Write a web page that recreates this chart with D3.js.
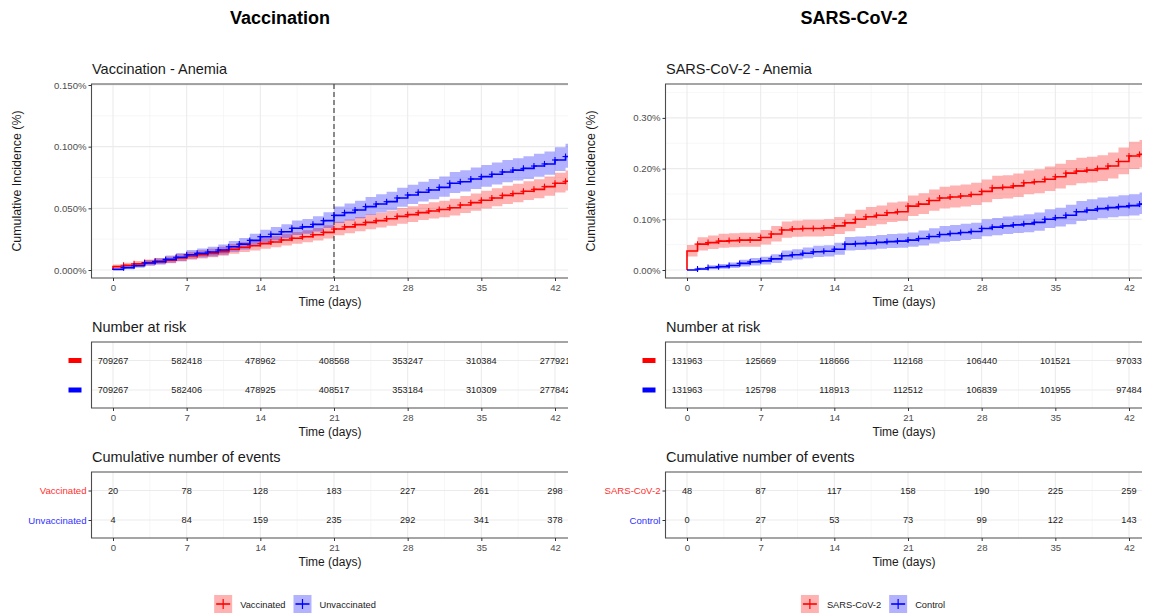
<!DOCTYPE html>
<html><head><meta charset="utf-8">
<script src="https://cdn.jsdelivr.net/npm/d3@7"></script>
<style>
body{margin:0;background:#fff}
svg{display:block;font-family:"Liberation Sans",Arial,Helvetica,sans-serif}
</style>
</head><body>
<svg id="chart" width="1150" height="613"></svg>
<script>
// ---------------- DATA ----------------
const days = [0,1,2,3,4,5,6,7,8,9,10,11,12,13,14,15,16,17,18,19,20,21,22,23,24,25,26,27,28,29,30,31,32,33,34,35,36,37,38,39,40,41,42,43];
const timeTicks = [0,7,14,21,28,35,42];

// Vaccination – Anemia (cumulative incidence, %)
const vaccinatedCI = [0.0027,0.0038,0.0050,0.0060,0.0070,0.0080,0.0097,0.0114,0.0124,0.0135,0.0149,0.0168,0.0184,0.0197,0.0214,0.0227,0.0243,0.0257,0.0270,0.0286,0.0305,0.0332,0.0350,0.0368,0.0386,0.0400,0.0416,0.0435,0.0449,0.0465,0.0478,0.0490,0.0505,0.0527,0.0546,0.0565,0.0584,0.0605,0.0620,0.0638,0.0654,0.0676,0.0703,0.0719];
const vaccinatedLower = [0.0012,0.0021,0.0031,0.0039,0.0047,0.0055,0.0069,0.0084,0.0093,0.0103,0.0115,0.0132,0.0146,0.0158,0.0173,0.0185,0.0199,0.0212,0.0224,0.0239,0.0256,0.0281,0.0298,0.0314,0.0331,0.0344,0.0359,0.0376,0.0390,0.0405,0.0417,0.0428,0.0442,0.0463,0.0481,0.0498,0.0516,0.0536,0.0550,0.0567,0.0582,0.0603,0.0629,0.0644];
const vaccinatedUpper = [0.0044,0.0058,0.0073,0.0085,0.0097,0.0109,0.0129,0.0148,0.0160,0.0172,0.0189,0.0210,0.0228,0.0242,0.0261,0.0275,0.0293,0.0308,0.0322,0.0341,0.0362,0.0391,0.0410,0.0430,0.0449,0.0464,0.0481,0.0502,0.0517,0.0535,0.0549,0.0562,0.0578,0.0601,0.0621,0.0642,0.0662,0.0684,0.0700,0.0719,0.0736,0.0759,0.0789,0.0806];

const unvaccinatedCI = [0.0005,0.0019,0.0035,0.0057,0.0068,0.0086,0.0103,0.0124,0.0135,0.0146,0.0162,0.0189,0.0210,0.0240,0.0270,0.0290,0.0310,0.0338,0.0350,0.0370,0.0400,0.0443,0.0465,0.0486,0.0514,0.0535,0.0554,0.0584,0.0608,0.0630,0.0649,0.0670,0.0703,0.0716,0.0738,0.0757,0.0776,0.0795,0.0810,0.0824,0.0843,0.0860,0.0892,0.0920];
const unvaccinatedLower = [0.0001,0.0007,0.0018,0.0035,0.0044,0.0058,0.0073,0.0091,0.0101,0.0110,0.0124,0.0148,0.0167,0.0194,0.0221,0.0240,0.0258,0.0283,0.0294,0.0312,0.0340,0.0381,0.0401,0.0420,0.0446,0.0466,0.0484,0.0512,0.0535,0.0556,0.0573,0.0593,0.0624,0.0636,0.0657,0.0675,0.0693,0.0711,0.0725,0.0738,0.0756,0.0772,0.0802,0.0829];
const unvaccinatedUpper = [0.0013,0.0034,0.0055,0.0082,0.0095,0.0118,0.0137,0.0162,0.0175,0.0188,0.0206,0.0236,0.0259,0.0293,0.0327,0.0348,0.0370,0.0401,0.0414,0.0436,0.0468,0.0515,0.0539,0.0562,0.0592,0.0614,0.0634,0.0666,0.0692,0.0716,0.0737,0.0759,0.0794,0.0808,0.0831,0.0851,0.0871,0.0891,0.0907,0.0922,0.0942,0.0960,0.0995,0.1024];

// SARS-CoV-2 – Anemia (cumulative incidence, %)
const sarsCI = [0.0375,0.0510,0.0540,0.0570,0.0580,0.0590,0.0590,0.0640,0.0710,0.0790,0.0810,0.0820,0.0820,0.0830,0.0870,0.0930,0.1000,0.1050,0.1080,0.1130,0.1150,0.1260,0.1300,0.1370,0.1420,0.1440,0.1460,0.1490,0.1550,0.1620,0.1630,0.1660,0.1720,0.1740,0.1790,0.1840,0.1910,0.1950,0.1970,0.2000,0.2050,0.2140,0.2250,0.2280];
const sarsLower = [0.0268,0.0386,0.0412,0.0439,0.0448,0.0457,0.0457,0.0502,0.0564,0.0636,0.0654,0.0663,0.0663,0.0672,0.0709,0.0764,0.0829,0.0874,0.0902,0.0948,0.0966,0.1067,0.1104,0.1169,0.1215,0.1234,0.1252,0.1280,0.1336,0.1401,0.1411,0.1439,0.1495,0.1514,0.1560,0.1607,0.1672,0.1710,0.1728,0.1757,0.1803,0.1888,0.1992,0.2020];
const sarsUpper = [0.0492,0.0646,0.0679,0.0713,0.0724,0.0735,0.0735,0.0791,0.0867,0.0956,0.0978,0.0989,0.0989,0.1001,0.1044,0.1110,0.1187,0.1241,0.1274,0.1330,0.1352,0.1470,0.1513,0.1590,0.1644,0.1665,0.1687,0.1720,0.1784,0.1859,0.1869,0.1901,0.1965,0.1987,0.2040,0.2094,0.2169,0.2212,0.2233,0.2265,0.2318,0.2414,0.2531,0.2563];

const controlCI = [0.0000,0.0020,0.0050,0.0066,0.0090,0.0130,0.0160,0.0180,0.0220,0.0280,0.0300,0.0330,0.0360,0.0370,0.0410,0.0510,0.0520,0.0530,0.0545,0.0560,0.0570,0.0590,0.0620,0.0660,0.0700,0.0720,0.0740,0.0760,0.0820,0.0845,0.0870,0.0890,0.0910,0.0940,0.1000,0.1030,0.1080,0.1150,0.1180,0.1210,0.1230,0.1250,0.1270,0.1300];
const controlLower = [0.0000,0.0003,0.0014,0.0024,0.0039,0.0069,0.0091,0.0107,0.0139,0.0189,0.0206,0.0231,0.0257,0.0266,0.0300,0.0387,0.0396,0.0405,0.0418,0.0432,0.0441,0.0458,0.0485,0.0521,0.0556,0.0574,0.0592,0.0610,0.0665,0.0687,0.0710,0.0728,0.0746,0.0774,0.0828,0.0856,0.0901,0.0966,0.0993,0.1021,0.1039,0.1058,0.1076,0.1104];
const controlUpper = [0.0000,0.0048,0.0094,0.0116,0.0149,0.0201,0.0239,0.0263,0.0313,0.0385,0.0408,0.0443,0.0479,0.0490,0.0536,0.0651,0.0662,0.0673,0.0691,0.0708,0.0719,0.0742,0.0777,0.0822,0.0866,0.0888,0.0910,0.0932,0.0999,0.1027,0.1054,0.1076,0.1098,0.1132,0.1198,0.1230,0.1285,0.1362,0.1395,0.1428,0.1450,0.1472,0.1494,0.1531];

// Number at risk
const vaccinatedAtRisk   = [709267,582418,478962,408568,353247,310384,277921];
const unvaccinatedAtRisk = [709267,582406,478925,408517,353184,310309,277842];
const sarsAtRisk         = [131963,125669,118666,112168,106440,101521,97033];
const controlAtRisk      = [131963,125798,118913,112512,106839,101955,97484];

// Cumulative number of events
const vaccinatedEvents   = [20,78,128,183,227,261,298];
const unvaccinatedEvents = [4,84,159,235,292,341,378];
const sarsEvents         = [48,87,117,158,190,225,259];
const controlEvents      = [0,27,53,73,99,122,143];

const vacYTicks  = [0,0.05,0.10,0.15];
const sarsYTicks = [0,0.10,0.20,0.30];

const sectionTitles = ["Vaccination","SARS-CoV-2"];
const plotTitles = ["Vaccination - Anemia","SARS-CoV-2 - Anemia"];
const vacGroups  = ["Vaccinated","Unvaccinated"];
const sarsGroups = ["SARS-CoV-2","Control"];

// ---------------- DRAWING ----------------
const RED = "#FF0000", BLUE = "#0000FF";
const svg = d3.select("#chart");

function series(ci, lo, hi){
  const pts = [{t:0, v:0, lo:0, hi:0}];
  days.forEach((d,i)=>pts.push({t:d, v:ci[i], lo:lo[i], hi:hi[i]}));
  const last = pts[pts.length-1];
  pts.push({t:last.t+1, v:last.v, lo:last.lo, hi:last.hi});
  return pts;
}

function drawColumn(cfg, idx){
  const ox = cfg.ox;
  const g = svg.append("g").attr("transform", `translate(${ox},0)`);
  const pL = 91.5, pR = 568;
  const x = d3.scaleLinear().domain([0,42]).range([113,555]);
  const minorX = timeTicks.slice(0,-1).map((t,i)=> (t+timeTicks[i+1])/2);
  const colors = [RED, BLUE];
  const fills = ["rgba(255,0,0,0.3)","rgba(0,0,255,0.3)"];

  const clipId = "clip"+idx;
  svg.append("defs").append("clipPath").attr("id", clipId)
    .append("rect").attr("x", pL).attr("y", 0).attr("width", pR-pL).attr("height", 613);

  g.append("text").attr("x", 280).attr("y", 24).attr("text-anchor","middle")
    .attr("font-weight","bold").attr("font-size",18).attr("fill","#000").text(cfg.section);
  g.append("text").attr("x", 92).attr("y", 74).attr("font-size",14.5).attr("fill","#1a1a1a").text(cfg.title);

  // ---- main panel ----
  const pT = 84, pB = 278;
  const y = d3.scaleLinear().domain([0, cfg.yTicks[cfg.yTicks.length-1]]).range([270, cfg.yTopPx]);
  const pg = g.append("g").attr("clip-path", `url(#${clipId})`);
  pg.selectAll(".mgy").data(cfg.minorY).join("line")
    .attr("x1", pL).attr("x2", pR).attr("y1", d=>y(d)).attr("y2", d=>y(d))
    .attr("stroke","#F2F2F2").attr("stroke-width",0.6);
  pg.selectAll(".mgx").data(minorX).join("line")
    .attr("x1", d=>x(d)).attr("x2", d=>x(d)).attr("y1", pT).attr("y2", pB)
    .attr("stroke","#F2F2F2").attr("stroke-width",0.6);
  pg.selectAll(".gy").data(cfg.yTicks).join("line")
    .attr("x1", pL).attr("x2", pR).attr("y1", d=>y(d)).attr("y2", d=>y(d))
    .attr("stroke","#EBEBEB").attr("stroke-width",1.1);
  pg.selectAll(".gx").data(timeTicks).join("line")
    .attr("x1", d=>x(d)).attr("x2", d=>x(d)).attr("y1", pT).attr("y2", pB)
    .attr("stroke","#EBEBEB").attr("stroke-width",1.1);

  const area = d3.area().curve(d3.curveStepAfter).x(d=>x(d.t)).y0(d=>y(d.lo)).y1(d=>y(d.hi));
  const line = d3.line().curve(d3.curveStepAfter).x(d=>x(d.t)).y(d=>y(d.v));
  cfg.series.forEach((s,i)=>{
    pg.append("path").attr("d", area(s)).attr("fill", fills[i]).attr("stroke","none");
  });
  if (cfg.dashAt !== undefined){
    pg.append("line").attr("x1", x(cfg.dashAt)).attr("x2", x(cfg.dashAt)).attr("y1", pT).attr("y2", pB)
      .attr("stroke","#333").attr("stroke-width",1.1).attr("stroke-dasharray","5,3");
  }
  cfg.series.forEach((s,i)=>{
    pg.append("path").attr("d", line(s)).attr("fill","none").attr("stroke", colors[i]).attr("stroke-width",1.6);
    const marks = s.slice(2, s.length-1);
    const mg = pg.append("g").attr("stroke", colors[i]).attr("stroke-width",1.1);
    mg.selectAll("line.h").data(marks).join("line")
      .attr("x1", d=>x(d.t)-3).attr("x2", d=>x(d.t)+3).attr("y1", d=>y(d.v)).attr("y2", d=>y(d.v));
    mg.selectAll("line.v").data(marks).join("line").attr("class","v")
      .attr("x1", d=>x(d.t)).attr("x2", d=>x(d.t)).attr("y1", d=>y(d.v)-3).attr("y2", d=>y(d.v)+3);
  });
  g.append("path").attr("d", `M${pR},${pT}H${pL}V${pB}H${pR}`).attr("fill","none").attr("stroke","#4d4d4d").attr("stroke-width",1.1);

  const yAx = g.append("g").attr("transform", `translate(${pL},0)`)
    .call(d3.axisLeft(y).tickValues(cfg.yTicks).tickFormat(cfg.fmt).tickSize(3).tickPadding(2));
  const xAx = g.append("g").attr("transform", `translate(0,${pB})`)
    .call(d3.axisBottom(x).tickValues(timeTicks).tickSize(3).tickPadding(3));
  [yAx, xAx].forEach(a=>{
    a.select(".domain").remove();
    a.selectAll("line").attr("stroke","#333");
    a.selectAll("text").attr("fill","#4D4D4D").attr("font-size",9.6).attr("font-family","Liberation Sans, Arial, sans-serif");
  });
  g.append("text").attr("x", 330).attr("y", 306).attr("text-anchor","middle").attr("font-size",12).attr("fill","#1a1a1a").text("Time (days)");
  g.append("text").attr("transform","translate(21,181) rotate(-90)").attr("text-anchor","middle")
    .attr("font-size",12.4).attr("fill","#1a1a1a").text("Cumulative Incidence (%)");

  // ---- tables ----
  function table(top, title, rowsData, labelMode){
    const tT = top, tB = top+66;
    g.append("text").attr("x", 92).attr("y", tT-10).attr("font-size",14.5).attr("fill","#1a1a1a").text(title);
    const ry = d3.scalePoint().domain(cfg.groups).range([tT+18.5, tT+48]);
    const tg = g.append("g").attr("clip-path", `url(#${clipId})`);
    tg.selectAll(".mx").data(minorX).join("line")
      .attr("x1", d=>x(d)).attr("x2", d=>x(d)).attr("y1", tT).attr("y2", tB).attr("stroke","#F2F2F2").attr("stroke-width",0.6);
    tg.selectAll(".gx").data(timeTicks).join("line")
      .attr("x1", d=>x(d)).attr("x2", d=>x(d)).attr("y1", tT).attr("y2", tB).attr("stroke","#EBEBEB").attr("stroke-width",1.1);
    tg.selectAll(".gy").data(cfg.groups).join("line")
      .attr("x1", pL).attr("x2", pR).attr("y1", d=>ry(d)).attr("y2", d=>ry(d)).attr("stroke","#EBEBEB").attr("stroke-width",1.1);
    rowsData.forEach((vals,ri)=>{
      tg.selectAll(null).data(vals).join("text")
        .attr("x", (d,i)=>x(timeTicks[i])).attr("y", ry(cfg.groups[ri])).attr("dy","0.35em")
        .attr("text-anchor","middle").attr("font-size",9.2).attr("fill","#1a1a1a").text(d=>d);
    });
    g.append("path").attr("d", `M${pR},${tT}H${pL}V${tB}H${pR}`).attr("fill","none").attr("stroke","#4d4d4d").attr("stroke-width",1.1);
    const xa = g.append("g").attr("transform", `translate(0,${tB})`)
      .call(d3.axisBottom(x).tickValues(timeTicks).tickSize(3).tickPadding(3));
    xa.select(".domain").remove();
    xa.selectAll("line").attr("stroke","#333");
    xa.selectAll("text").attr("fill","#4D4D4D").attr("font-size",9.6).attr("font-family","Liberation Sans, Arial, sans-serif");
    g.append("text").attr("x", 330).attr("y", tB+28).attr("text-anchor","middle").attr("font-size",12).attr("fill","#1a1a1a").text("Time (days)");
    if (labelMode === "bars"){
      g.selectAll(null).data(cfg.groups).join("rect")
        .attr("x", 68.5).attr("y", d=>ry(d)-2.5).attr("width", 13).attr("height", 5)
        .attr("fill", (d,i)=>colors[i]);
    } else {
      const ya = g.append("g").attr("transform", `translate(${pL},0)`)
        .call(d3.axisLeft(ry).tickSize(3).tickPadding(2));
      ya.select(".domain").remove();
      ya.selectAll("line").attr("stroke","#333");
      ya.selectAll("text").attr("font-size",9.6).attr("font-family","Liberation Sans, Arial, sans-serif")
        .attr("fill",(d,i)=>i===0?"#FF3030":"#3030FF");
    }
  }
  table(342, "Number at risk", cfg.atRisk, "bars");
  table(472, "Cumulative number of events", cfg.events, "text");

  // ---- legend ----
  const lg = g.append("g");
  let cx = 0;
  cfg.groups.forEach((name,i)=>{
    const it = lg.append("g");
    it.append("rect").attr("x",0).attr("y",595).attr("width",18).attr("height",18).attr("fill", fills[i]);
    it.append("line").attr("x1",2).attr("x2",16).attr("y1",604).attr("y2",604).attr("stroke",colors[i]).attr("stroke-width",1.6);
    it.append("line").attr("x1",9).attr("x2",9).attr("y1",599).attr("y2",609).attr("stroke",colors[i]).attr("stroke-width",1.2);
    const t = it.append("text").attr("x",26).attr("y",607.5).attr("font-size",9.3).attr("fill","#1a1a1a").text(name);
    const w = 26 + t.node().getComputedTextLength();
    it.attr("transform", `translate(${cx},0)`);
    cx += w + 8;
  });
  const total = cx - 8;
  lg.attr("transform", `translate(${cfg.legendCenter - total/2},0)`);
}

drawColumn({
  ox: 0, section: sectionTitles[0], title: plotTitles[0],
  yTicks: vacYTicks, minorY: [0.025,0.075,0.125], yTopPx: 85,
  fmt: d=>d3.format(".3f")(d)+"%",
  series: [series(vaccinatedCI, vaccinatedLower, vaccinatedUpper), series(unvaccinatedCI, unvaccinatedLower, unvaccinatedUpper)],
  dashAt: 21, groups: vacGroups,
  atRisk: [vaccinatedAtRisk, unvaccinatedAtRisk],
  events: [vaccinatedEvents, unvaccinatedEvents],
  legendCenter: 295
}, 0);

drawColumn({
  ox: 574, section: sectionTitles[1], title: plotTitles[1],
  yTicks: sarsYTicks, minorY: [0.05,0.15,0.25,0.35], yTopPx: 117.9,
  fmt: d=>d3.format(".2f")(d)+"%",
  series: [series(sarsCI, sarsLower, sarsUpper), series(controlCI, controlLower, controlUpper)],
  groups: sarsGroups,
  atRisk: [sarsAtRisk, controlAtRisk],
  events: [sarsEvents, controlEvents],
  legendCenter: 299
}, 1);
</script>
</body></html>
